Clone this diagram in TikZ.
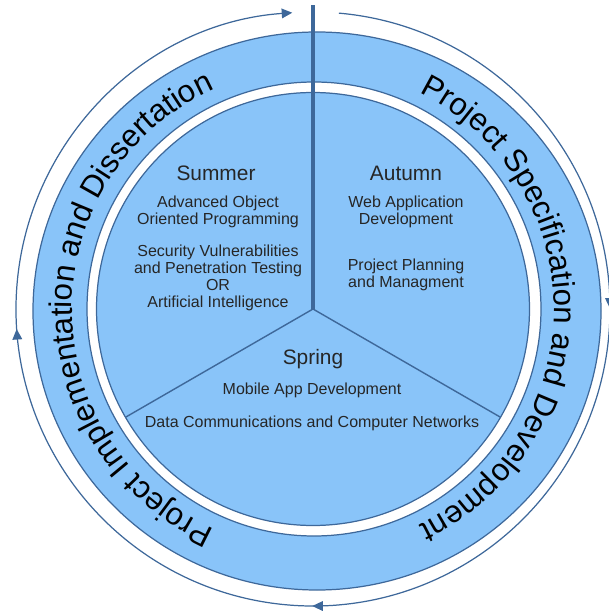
\documentclass[tikz,border=0pt]{standalone}
\usepackage{fontspec}
\setmainfont{Liberation Sans}
\usetikzlibrary{arrows.meta, decorations.markings, decorations.text}
\definecolor{ringFill}{RGB}{137,196,249}
\definecolor{ringLine}{RGB}{62,104,154}
\tikzstyle{cDisk} = [fill=ringFill, draw=ringLine, line width=0.7pt]
\tikzstyle{cSeason} = [font=\fontsize{11.9}{13}\selectfont, text=black!85]
\tikzstyle{cCourse} = [font=\fontsize{9.1}{9.6}\selectfont, align=center, text=black!85]
\tikzstyle{cSpoke} = [draw=ringLine, line width=0.8pt]
\tikzstyle{cDivider} = [draw=ringLine, line width=2pt]
\tikzstyle{cCycle} = [draw=ringLine, line width=0.7pt, -{Triangle[length=6pt, width=5.5pt]},
    postaction={decorate}, decoration={markings,
    mark=at position 0.242 with {\arrow{Triangle[length=6pt, width=5.5pt]}},
    mark=at position 0.499 with {\arrow{Triangle[length=6pt, width=5.5pt]}},
    mark=at position 0.744 with {\arrow{Triangle[length=6pt, width=5.5pt]}}}]
\newcommand{\bandFont}{\fontsize{17.8}{20}\selectfont}

\begin{document}
\begin{tikzpicture}[x=0.02cm, y=0.02cm]
    \useasboundingbox (-313,-302) rectangle (295,309);

    % cycle arrow round the outside
    \draw [cCycle] (85:297) arc [start angle=85, end angle=-266, radius=297];

    % outer band with the two phases
    \path [cDisk, even odd rule] (4,-2) ellipse [x radius=284, y radius=279] (1,0) circle [radius=227];
    \path [decorate, decoration={text along path, text align=center,
        text={|\bandFont|Project Specification and Development}}]
        (90:241) arc [start angle=90, end angle=-90, radius=241];
    \path [decorate, decoration={text along path, text align=center,
        text={|\bandFont|Project Implementation and Dissertation}}]
        (270:241) arc [start angle=270, end angle=90, radius=241];

    % inner disk split in three
    \draw [cDisk] (0,0) circle [radius=216.5];
    \coordinate (hub) at (0,0);
    \coordinate (topEnd) at (0,304);
    \coordinate (rimLeft) at (210:216.5);
    \coordinate (rimRight) at (330:216.5);
    \draw [cDivider] (hub) -- (topEnd);
    \draw [cSpoke] (hub) -- (rimLeft);
    \draw [cSpoke] (hub) -- (rimRight);

    \node (summer) [cSeason] at (-97,136) {Summer};
    \node (summerOop) [cCourse] at (-95,97) {Advanced Object\\Oriented Programming};
    \node (summerSec) [cCourse] at (-95,31) {Security Vulnerabilities\\and Penetration Testing\\OR\\Artificial Intelligence};

    \node (autumn) [cSeason] at (93,136) {Autumn};
    \node (autumnWeb) [cCourse] at (93,97) {Web Application\\Development};
    \node (autumnPlan) [cCourse] at (93,34) {Project Planning\\and Managment};

    \node (spring) [cSeason] at (0,-50) {Spring};
    \node (springMobile) [cCourse] at (-1,-81) {Mobile App Development};
    \node (springNet) [cCourse] at (-1,-114) {Data Communications and Computer Networks};
\end{tikzpicture}
\end{document}
